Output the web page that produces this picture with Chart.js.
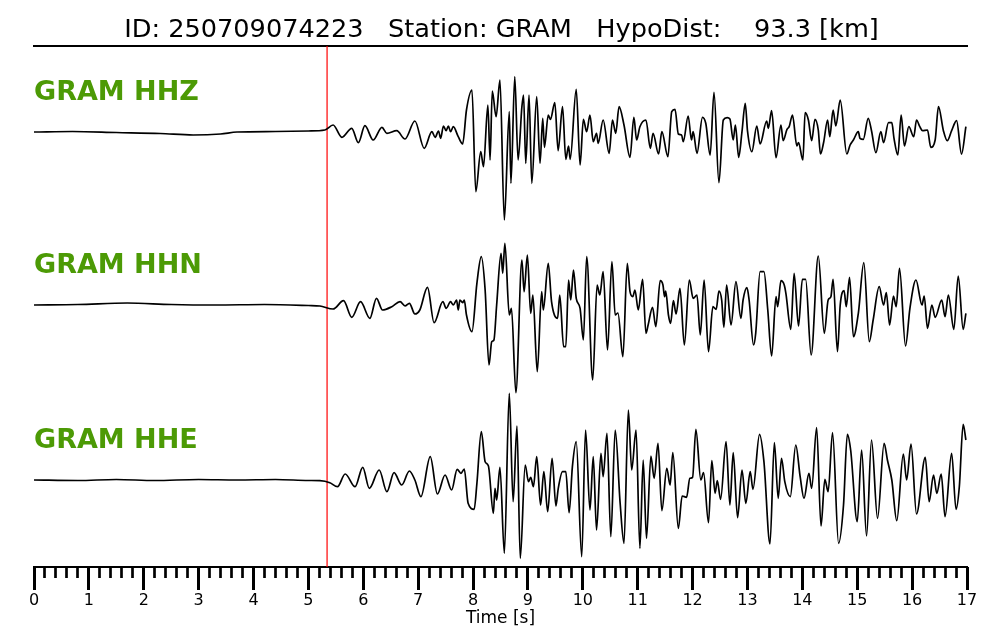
<!DOCTYPE html>
<html>
<head>
<meta charset="utf-8">
<script src="https://cdn.jsdelivr.net/npm/chart.js@4.4.1/dist/chart.umd.min.js"></script>
<style>
  html, body { margin: 0; padding: 0; background: #fff; }
</style>
</head>
<body>
<canvas id="seis" width="1000" height="640"></canvas>
<script>
const eventId = '250709074223';
const station = 'GRAM';
const hypoDist = '93.3';
const channels = ['HHZ', 'HHN', 'HHE'];
const pickTime = 5.34;          // red P-pick marker [s]
const timeRange = [0, 17];
const majorStep = 1;
const minorStep = 0.2;

// [time s, amplitude] (amplitude in screen units, up positive)
const hhzTrace = [
  [0,0],[0.7,0.5],[1.5,-0.5],[2.3,-1.5],[2.9,-3],[3.4,-2],[3.7,0],[4.4,0.5],[5.0,1],[5.3,2],
  [5.45,7],[5.61,-5.3],[5.79,3.7],[5.91,-10.7],[6.03,6.3],[6.18,-8],[6.34,4.7],[6.43,-1.3],[6.61,1.3],[6.76,-7],[6.94,11],[7.11,-16.3],
  [7.25,0.3],[7.31,-5.3],[7.37,1],[7.41,-6.3],[7.46,6],[7.51,1.3],[7.55,6],[7.59,0.3],[7.64,5.3],[7.73,-4.7],[7.81,-12],[7.88,22],[7.98,42],
  [8.05,-59.7],[8.14,-19.7],[8.19,-34.7],[8.27,27],[8.31,-28],[8.35,41],[8.42,15.3],[8.49,52],[8.57,-88],[8.66,20.3],[8.69,-51.3],[8.76,55.3],[8.82,-28],[8.89,25.3],[8.92,37],[8.96,-31.3],
  [9.02,37],[9.07,-51.3],[9.16,35.3],[9.22,-31.3],[9.27,13.7],[9.30,-15.3],[9.37,17],[9.41,12.7],[9.49,29.3],[9.55,-18.7],[9.63,25.3],[9.69,-27.3],[9.74,-14],[9.77,-27.3],[9.88,42.7],[9.95,-33],
  [10.01,12.7],[10.07,0.3],[10.13,17],[10.19,-9.7],[10.25,-1.3],[10.28,-11.3],[10.37,12],[10.48,-21.3],[10.54,12],[10.60,-1.3],[10.66,25.3],[10.75,7],[10.86,-25.3],[10.93,14.7],[10.98,-8],
  [11.04,5.3],[11.15,12],[11.23,-16.3],[11.28,-1.3],[11.38,-22],[11.44,0.3],[11.55,-24.7],[11.62,20.3],[11.68,22.7],[11.74,-2],[11.80,-3],[11.83,-9.7],[11.92,16],[11.98,-8],
  [12.01,0.3],[12.08,-21.3],[12.18,14.7],[12.24,8.7],[12.32,-23],[12.39,39.7],[12.48,-50.7],[12.56,12],[12.63,14.3],[12.68,13],[12.74,-8],[12.78,7],[12.84,-25.3],[12.90,0.3],[12.96,28.7],
  [13.00,1.3],[13.08,-19.7],[13.17,6],[13.23,-12],[13.35,11],[13.38,3.7],[13.44,21.3],[13.52,-25.7],[13.61,7],[13.65,-8.7],[13.72,2.7],[13.76,5.3],[13.82,17],[13.90,-14],[13.93,-10.7],
  [14.01,-28],[14.05,19.3],[14.11,12],[14.17,-8.7],[14.23,12.7],[14.29,2],[14.33,-22],[14.39,-9.7],[14.46,12],[14.50,-4.7],[14.56,22],[14.61,6],[14.69,32],[14.81,-22],[14.87,-13],[14.93,-8],
  [15.02,0.3],[15.05,-6.3],[15.11,-7.3],[15.20,13.7],[15.26,1.3],[15.34,-20.7],[15.43,0.3],[15.48,-10.7],[15.57,9.3],[15.63,9.3],[15.67,-6.3],[15.74,-23],[15.80,17],[15.86,-14],[15.94,5.3],
  [16.03,-4.7],[16.08,12],[16.14,5.3],[16.19,1.3],[16.28,2],[16.34,-15.3],[16.42,-8],[16.48,25.3],[16.57,1.3],[16.64,-8.7],[16.72,1.3],[16.81,11.3],[16.90,-22],[16.98,5.3]
];

const hhnTrace = [
  [0,0],[0.8,0.5],[1.7,2],[2.5,0.5],[3.3,0],[4.2,0.5],[5.0,-0.5],[5.21,-1],
  [5.45,-4],[5.64,4.3],[5.79,-12.3],[5.95,3.3],[6.12,-13.3],[6.24,6.7],[6.35,-5],[6.52,-1.7],[6.67,3.3],[6.76,-1],[6.84,1.7],[6.94,-9],[7.03,-5],[7.17,17.7],[7.29,-17.7],
  [7.45,3.3],[7.51,-3.3],[7.59,3.3],[7.64,0],[7.70,5],[7.73,-5],[7.76,5],[7.81,2.3],[7.84,5],[7.88,-10],[7.98,-26.7],
  [8.07,21.7],[8.15,48.3],[8.22,15],[8.29,-60],[8.34,-36.7],[8.38,-35],[8.43,0],[8.51,51.7],[8.54,31.7],[8.58,61.7],[8.66,-10],[8.70,-3.3],[8.78,-87.7],[8.89,45],[8.93,13.3],[8.99,50],
  [9.05,-8.3],[9.09,10],[9.17,-66.7],[9.25,13.3],[9.28,-5],[9.37,41.7],[9.43,3.3],[9.54,-13.3],[9.58,10],[9.65,-41.7],[9.69,-41.7],[9.74,25],[9.78,5],[9.83,35],[9.88,6.7],[9.95,-3.3],
  [10.01,-35],[10.07,48.3],[10.18,-75],[10.26,20],[10.31,10],[10.37,33.3],[10.45,-45],[10.53,43.3],[10.59,-10],[10.64,-8],[10.73,-51.7],[10.81,41.7],[10.86,13.3],[10.91,8.3],[10.95,15],
  [11.01,-5],[11.09,25.7],[11.15,-28.3],[11.19,-20],[11.27,-2.3],[11.33,-21.7],[11.41,24.3],[11.46,20],[11.49,8.3],[11.51,14],[11.56,-10],[11.60,-18.3],[11.65,4.3],[11.70,-9],[11.77,16.7],[11.85,-40],[11.94,25],
  [12.01,6.7],[12.08,10],[12.14,-30],[12.21,25],[12.29,-46.7],[12.37,-1.7],[12.43,-4.3],[12.48,14],[12.53,5],[12.57,-22.3],[12.62,20],[12.70,-20],[12.79,23.3],[12.88,-13.3],[12.92,5],[12.99,17.3],
  [13.03,5],[13.11,-40],[13.15,-28.3],[13.23,33.3],[13.30,33.3],[13.37,-5],[13.44,-51],[13.52,8.3],[13.55,-1.7],[13.61,24.3],[13.67,20],[13.70,11.7],[13.79,-24.3],[13.85,31.7],[13.93,-21],
  [14.00,25.7],[14.06,25.7],[14.16,-50],[14.29,49],[14.40,-28.3],[14.47,5],[14.52,8.3],[14.56,25.7],[14.64,-46.7],[14.69,0],[14.76,14.3],[14.80,-1.7],[14.86,27.7],[14.93,-31.7],
  [15.02,-8.3],[15.12,42.3],[15.22,-36.7],[15.29,-15],[15.40,18.3],[15.48,0],[15.53,12.3],[15.59,-20],[15.66,9],[15.71,-1.7],[15.77,36.7],[15.88,-41],[15.96,-3.3],
  [16.07,25],[16.18,0],[16.22,9],[16.28,-23.3],[16.36,0],[16.42,-12.3],[16.54,5],[16.60,-11.7],[16.66,10],[16.76,-24.3],[16.84,29],[16.93,-24.3],[16.98,-8.3]
];

const hheTrace = [
  [0,0],[0.8,-0.5],[1.5,0.5],[2.2,-0.5],[3.0,0.5],[3.7,0],[4.4,0.5],[5.0,-0.5],[5.21,-0.7],
  [5.39,-2.7],[5.53,-6.7],[5.67,6],[5.85,-6.7],[5.99,12.7],[6.11,-8.3],[6.29,10],[6.43,-11.7],[6.56,7.3],[6.70,-5],[6.84,9],[6.94,0],[7.05,-16.7],[7.22,23.3],[7.35,-14],[7.49,5],[7.61,-10],[7.71,10.7],[7.78,6.7],[7.84,11],[7.91,-23.3],
  [8.02,-29.3],[8.07,-3.3],[8.15,48.3],[8.22,18.3],[8.28,14],[8.37,-33.3],[8.40,-8.3],[8.43,-20],[8.49,12.7],[8.57,-73.3],[8.66,86.7],[8.73,-21.7],[8.80,54],[8.86,-78.3],[8.95,15],
  [9.01,-1.7],[9.05,2.7],[9.10,-6.7],[9.16,23.3],[9.23,-25],[9.29,8.3],[9.36,-31.7],[9.44,21.7],[9.51,-26],[9.55,-9.3],[9.63,8.3],[9.69,8.3],[9.75,-32.7],[9.81,13.3],[9.88,38.3],[9.98,-76.7],
  [10.05,50],[10.13,-30],[10.19,23.3],[10.25,-50],[10.33,26.7],[10.37,3.3],[10.44,46.7],[10.51,-56.7],[10.59,50],[10.68,-23.3],[10.75,-63.3],[10.83,70],[10.89,10],[10.97,50],
  [11.04,-68.3],[11.10,20],[11.16,-58.3],[11.24,24],[11.30,1.7],[11.37,36.7],[11.44,-30.7],[11.53,11.7],[11.59,-5],[11.64,27.3],[11.74,-48.3],[11.81,-16],[11.89,-17.3],[11.95,1.7],
  [12.00,2.7],[12.06,50.7],[12.15,0],[12.20,7.3],[12.29,-42.7],[12.35,19.3],[12.41,-13.3],[12.45,-0.7],[12.51,-19.3],[12.61,38.3],[12.68,-25],[12.74,27.3],[12.82,-37.7],[12.90,10],[12.97,-23.3],
  [13.05,8.3],[13.10,-9.3],[13.22,45.7],[13.30,18.3],[13.41,-64],[13.49,37.3],[13.56,-18.3],[13.62,21.7],[13.68,-1.7],[13.78,-16.7],[13.88,35],[13.96,3.3],
  [14.03,-18.3],[14.12,6.7],[14.17,-8.3],[14.26,52.3],[14.34,-46],[14.41,0.7],[14.47,-11.7],[14.55,47.3],[14.66,-63.3],[14.75,-25],[14.82,45.7],[14.88,30],
  [15.00,-41.7],[15.08,30],[15.17,-56],[15.26,40],[15.37,-38.3],[15.49,36.7],[15.55,20],[15.63,0],[15.72,-40.7],[15.84,26],[15.90,0],[15.98,36],
  [16.08,-34],[16.24,22.7],[16.31,-21.7],[16.39,5],[16.45,-13.3],[16.53,6],[16.60,-36.7],[16.72,26.7],[16.80,-29.3],[16.86,-6.7],[16.93,55.7],[16.98,40]
];

const traces = [hhzTrace, hhnTrace, hheTrace];
// visible amplitude window of each panel [min, max]
const panelRanges = [[-435, 86], [-262, 259], [-87, 434]];
const labelLift = 32;

const FONT = '"DejaVu Sans", sans-serif';
const labelGreen = '#4c9a05';
const titleText = `ID: ${eventId}   Station: ${station}   HypoDist:    ${hypoDist} [km]`;

// title + channel names
const textPlugin = {
    id: 'seisText',
    afterDraw(chart) {
        const { ctx, chartArea } = chart;
        ctx.save();
        ctx.fillStyle = '#000';
        ctx.font = `25.6px ${FONT}`;
        ctx.textAlign = 'center';
        ctx.textBaseline = 'alphabetic';
        ctx.fillText(titleText, (chartArea.left + chartArea.right) / 2 + 1, chartArea.top - 9);

        ctx.font = `bold 27px ${FONT}`;
        ctx.fillStyle = labelGreen;
        ctx.textAlign = 'left';
        channels.forEach((ch, i) => {
            const axis = chart.scales['y' + i];
            ctx.fillText(`${station} ${ch}`, chartArea.left, axis.getPixelForValue(labelLift));
        });
        ctx.restore();
    }
};

const datasets = traces.map((trace, i) => ({
    label: channels[i],
    data: trace.map(([t, a]) => ({ x: t, y: a })),
    yAxisID: 'y' + i,
    borderColor: '#000',
    borderWidth: 1.7,
    pointRadius: 0,
    fill: false,
    cubicInterpolationMode: 'monotone'
}));

datasets.push({
    label: 'pick',
    data: [{ x: pickTime, y: 0 }, { x: pickTime, y: 1 }],
    yAxisID: 'yPick',
    borderColor: '#ff0000',
    borderWidth: 1.2,
    pointRadius: 0,
    fill: false
});

const scales = {
    x: {
        type: 'linear', position: 'bottom', weight: 0,
        min: timeRange[0], max: timeRange[1],
        afterFit: s => { s.height = 0; },
        ticks: { display: false, stepSize: minorStep },
        grid: { drawOnChartArea: false, tickLength: 11, tickWidth: 2.7, tickColor: '#000' },
        border: { display: true, color: '#000', width: 2 }
    },
    xMajor: {
        type: 'linear', position: 'bottom', weight: 1,
        min: timeRange[0], max: timeRange[1],
        afterFit: s => { s.height = 73; },
        ticks: {
            stepSize: majorStep, autoSkip: false, maxRotation: 0, padding: 1,
            color: '#000', font: { family: FONT, size: 16 }
        },
        grid: { drawOnChartArea: false, tickLength: 23, tickWidth: 3, tickColor: '#000' },
        border: { display: false },
        title: {
            display: true, text: 'Time [s]', color: '#000',
            font: { family: FONT, size: 17 }, padding: { top: 0, bottom: 11 }
        }
    },
    xTop: {
        type: 'linear', position: 'top',
        min: timeRange[0], max: timeRange[1],
        afterFit: s => { s.height = 0; },
        ticks: { display: false },
        grid: { drawOnChartArea: false, drawTicks: false },
        border: { display: true, color: '#000', width: 2 }
    },
    yPick: { display: false, min: 0, max: 1 }
};
panelRanges.forEach(([lo, hi], i) => {
    scales['y' + i] = { display: false, min: lo, max: hi };
});

new Chart(document.getElementById('seis'), {
    type: 'line',
    data: { datasets },
    options: {
        responsive: false,
        animation: false,
        layout: { padding: { top: 46, left: 34, right: 33, bottom: 0 } },
        plugins: {
            legend: { display: false },
            tooltip: { enabled: false },
            title: { display: false }
        },
        scales
    },
    plugins: [textPlugin]
});
</script>
</body>
</html>
